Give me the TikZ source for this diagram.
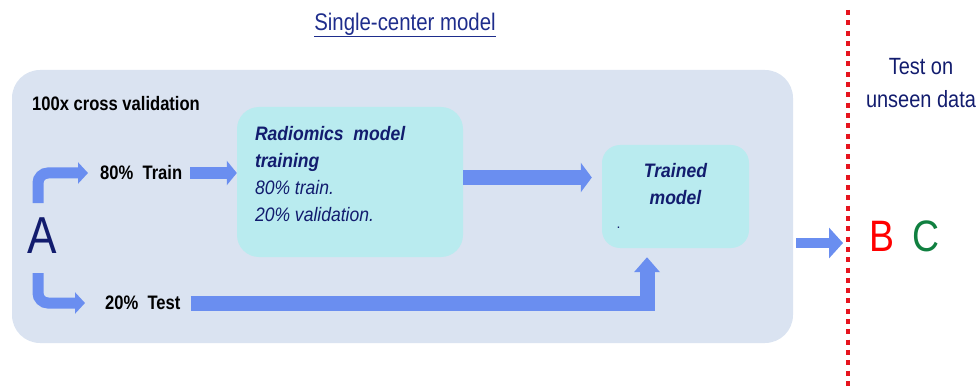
\documentclass[tikz,border=0pt]{standalone}
\usepackage{fontspec}
\setmainfont{Liberation Sans}
\newfontfamily\condA[FakeStretch=0.85]{Liberation Sans}
\newfontfamily\condB[FakeStretch=0.9]{Liberation Sans}
\usetikzlibrary{arrows.meta,calc}
\definecolor{bgbox}{RGB}{218,227,241}
\definecolor{cyanbox}{RGB}{185,235,239}
\definecolor{arrowblue}{RGB}{106,142,240}
\definecolor{navy}{RGB}{18,28,110}
\definecolor{titleblue}{RGB}{30,45,140}
\definecolor{dotred}{RGB}{230,20,30}
\definecolor{cgreen}{RGB}{16,128,64}
\newcommand\fsz[2]{\fontsize{#1}{#2}\selectfont}
\tikzset{
  lbl/.style={inner sep=0pt, anchor=west, font=\condA\bfseries\fsz{19.5}{22}},
  flow/.style={draw=arrowblue},
  panel/.style={fill=cyanbox, draw=none, inner sep=0pt},
}
\begin{document}
\begin{tikzpicture}[x=1pt,y=-1pt]
\useasboundingbox (0,0) rectangle (979,390);

% title
\node[text=titleblue, inner sep=0pt, font=\condA\fsz{24}{28}] (title) at (405,25) {\underline{Single-center model}};

% big cross-validation panel
\node[fill=bgbox, draw=none, rounded corners=28pt, minimum width=781pt, minimum height=273pt, inner sep=0pt] (cv) at (402.5,206.5) {};
\node[lbl] (cvl) at (32,104) {100x cross validation};

% A and labels
\node[text=navy, inner sep=0pt, font=\condA\fsz{52}{56}] (A) at (42.5,236) {A};
\node[lbl] (train) at (100,173) {80\%\ \ Train};
\node[lbl] (test) at (105,303) {20\%\ \ Test};

% radiomics box
\node[panel, rounded corners=22pt, minimum width=226pt, minimum height=150pt] (rad) at (350,182) {};
\node[anchor=north west, inner sep=0pt, align=left, text=navy, font=\condB\itshape\fsz{19.5}{27}] (radtxt) at ($(rad.north west)+(18,19)$)
  {{\bfseries Radiomics\ \ model}\\{\bfseries training}\\80\% train.\\20\% validation.};

% trained model box
\node[panel, rounded corners=18pt, minimum width=147pt, minimum height=103pt] (trained) at (675.5,196.5) {};
\node[anchor=north, inner sep=0pt, align=center, text=navy, font=\condB\bfseries\itshape\fsz{19.5}{27}] (trtxt) at ($(trained.north)+(0,18)$) {Trained\\model};
\node[inner sep=0pt, text=navy, font=\fsz{14}{16}] (dot) at (618.5,228) {.};

% right side
\coordinate (ltop) at (848,10);
\coordinate (lbot) at (848,390);
\draw[dotred, line width=4.5pt, dash pattern=on 5pt off 5.3pt] (ltop) -- (lbot);
\node[text=navy, inner sep=0pt, align=center, font=\condA\fsz{23.5}{33}] (unseen) at (921,83) {Test on\\unseen data};
\node[text=red, inner sep=0pt, anchor=west, font=\condA\fsz{44}{48}] (B) at (869,236) {B};
\node[text=cgreen, inner sep=0pt, anchor=west, font=\condA\fsz{44}{48}] (C) at (912,236) {C};

% connectors
\coordinate (a1) at (38,203);
\coordinate (a2) at (38,273);
\draw[flow, line width=11pt, rounded corners=10pt, -{Triangle[width=21pt,length=10pt]}] (a1) |- ([xshift=-12pt]train.west);
\draw[flow, line width=11pt, rounded corners=10pt, -{Triangle[width=21pt,length=10pt]}] (a2) |- ([xshift=-20pt]test.west);
\draw[flow, line width=12pt, -{Triangle[width=24pt,length=10pt]}] ([xshift=8pt]train.east) -- (rad.west |- train.east);
\coordinate (m1) at ($(rad.east)+(0,-4.5)$);
\draw[flow, line width=15pt, shorten >=10pt, -{Triangle[width=29pt,length=11pt]}] (m1) -- (m1 -| trained.west);
\draw[flow, line width=15pt, -{Triangle[width=25pt,length=15pt]}] ([xshift=10pt]test.east) -| ([xshift=-28.5pt,yshift=-9pt]trained.south);
\coordinate (r1) at ($(cv.east)+(3,36.5)$);
\draw[flow, line width=10pt, shorten >=5pt, -{Triangle[width=30pt,length=14pt]}] (r1) -- (r1 -| ltop);
\end{tikzpicture}
\end{document}
